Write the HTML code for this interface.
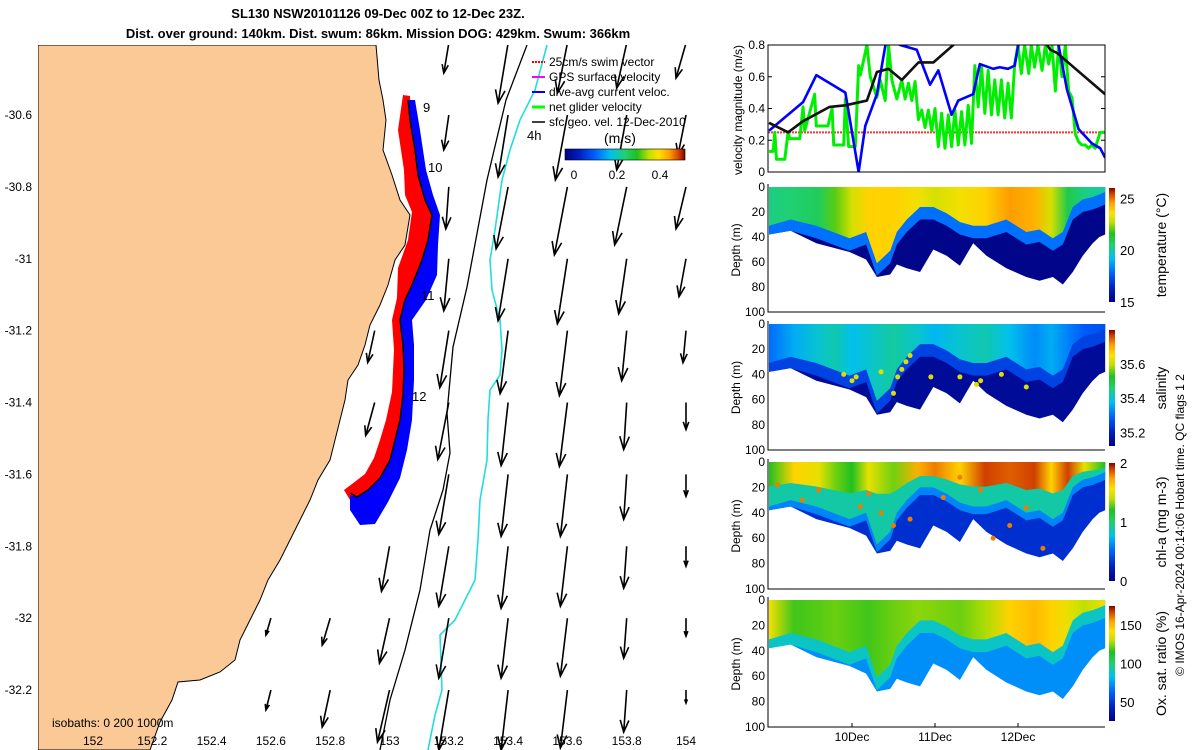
<!DOCTYPE html>
<html><head><meta charset="utf-8">
<style>
html,body{margin:0;padding:0;background:#fff;}
svg{display:block;font-family:"Liberation Sans",sans-serif;}
</style></head>
<body>
<svg id="chart" width="1200" height="750" viewBox="0 0 1200 750" xmlns="http://www.w3.org/2000/svg">
<defs>
<clipPath id="mapclip"><rect x="38" y="45" width="680" height="705"/></clipPath>
<clipPath id="velclip"><rect x="768" y="45" width="337" height="127"/></clipPath>
<linearGradient id="cbh" x1="0" x2="1" y1="0" y2="0">
<stop offset="0" stop-color="#00007f"/><stop offset=".12" stop-color="#0020c0"/><stop offset=".25" stop-color="#0060ff"/><stop offset=".38" stop-color="#00c0f0"/><stop offset=".5" stop-color="#20d070"/><stop offset=".6" stop-color="#20c020"/><stop offset=".7" stop-color="#c0e000"/><stop offset=".78" stop-color="#ffe000"/><stop offset=".87" stop-color="#ffa000"/><stop offset=".95" stop-color="#d04000"/><stop offset="1" stop-color="#800000"/>
</linearGradient>
<linearGradient id="cbv" x1="0" x2="0" y1="1" y2="0">
<stop offset="0" stop-color="#00007f"/><stop offset=".12" stop-color="#0020c0"/><stop offset=".25" stop-color="#0060ff"/><stop offset=".38" stop-color="#00c0f0"/><stop offset=".5" stop-color="#20d070"/><stop offset=".6" stop-color="#20c020"/><stop offset=".7" stop-color="#c0e000"/><stop offset=".78" stop-color="#ffe000"/><stop offset=".87" stop-color="#ffa000"/><stop offset=".95" stop-color="#d04000"/><stop offset="1" stop-color="#800000"/>
</linearGradient>
</defs>

<g font-weight="bold" font-size="13" text-anchor="middle">
<text x="378" y="18">SL130 NSW20101126 09-Dec 00Z to 12-Dec 23Z.</text>
<text x="378" y="38">Dist. over ground: 140km. Dist. swum: 86km. Mission DOG: 429km. Swum: 366km</text>
</g>

<g id="map" clip-path="url(#mapclip)">
<polygon fill="#fac996" stroke="#000" stroke-width="1"
points="38,45 376,45 379,80 383,100 386,120 383,150 392,175 400,200 410,215 405,245 395,260 388,285 380,305 370,325 365,345 358,365 348,380 345,400 340,420 335,440 330,460 318,480 310,500 300,520 290,540 280,560 268,580 260,600 250,620 240,640 235,660 220,672 200,680 178,682 172,700 160,722 150,750 38,750"/>
<polyline fill="none" stroke="#000" stroke-width="1.3" points="527,45 506,100 487,180 467,287 453,347 447,413 450,453 443,490 430,530 420,590 405,650 390,700 380,750"/>
<polyline fill="none" stroke="#22dddd" stroke-width="1.6" points="547,45 535,90 520,120 510,150 502,180 495,230 490,260 492,290 500,320 502,350 500,375 490,390 488,420 487,460 480,500 478,540 475,580 455,620 440,635 442,690 435,715 428,750"/>
<polygon fill="#ff0000" points="403,95 410,96 412,130 418,170 425,200 432,215 428,240 422,260 412,285 405,300 400,320 403,345 404,370 403,395 400,420 395,440 390,460 380,478 368,490 357,497 350,500 344,490 352,484 365,474 374,458 380,440 386,420 392,392 394,350 392,320 397,298 398,268 408,240 412,212 405,195 404,170 398,130"/>
<polygon fill="#0000ff" points="408,100 415,100 420,130 426,170 433,195 440,215 438,245 437,275 426,300 412,320 414,345 414,380 412,420 407,450 400,478 388,502 375,524 360,525 350,510 350,495 357,497 368,490 380,478 390,460 395,440 400,420 403,395 404,370 403,345 400,320 405,300 412,285 422,260 428,240 432,215 425,200 418,175 415,150 410,120"/>
<polyline fill="none" stroke="#000" stroke-width="1.4" points="408,100 410,120 415,150 418,175 425,200 432,215 428,240 422,260 412,285 405,300 400,320 403,345 404,370 403,395 400,420 395,440 390,460 380,478 368,490 357,497 350,493"/>
<g id="arrows"></g>
<g font-size="13">
<text x="423" y="112">9</text>
<text x="428" y="172">10</text>
<text x="421" y="300">11</text>
<text x="412" y="401">12</text>
<text x="527" y="140">4h</text>
</g>
<text x="52" y="727" font-size="12">isobaths: 0   200  1000m</text>
</g>

<g font-size="12">
<line x1="532" y1="62" x2="545" y2="62" stroke="#f00" stroke-width="2" stroke-dasharray="2,1"/>
<text x="549" y="66">25cm/s swim vector</text>
<line x1="532" y1="77" x2="545" y2="77" stroke="#f0f" stroke-width="2"/>
<text x="549" y="81">GPS surface velocity</text>
<line x1="532" y1="92" x2="545" y2="92" stroke="#00f" stroke-width="2"/>
<text x="549" y="96">dive-avg current veloc.</text>
<line x1="532" y1="107" x2="545" y2="107" stroke="#0f0" stroke-width="3"/>
<text x="549" y="111">net glider velocity</text>
<line x1="532" y1="122" x2="545" y2="122" stroke="#000" stroke-width="1.5"/>
<text x="549" y="126">sfc geo. vel. 12-Dec-2010</text>
<text x="604" y="143" font-size="14">(m/s)</text>
<rect x="565" y="149" width="120" height="11" fill="url(#cbh)" stroke="#000" stroke-width=".6"/>
<text x="574" y="179" text-anchor="middle">0</text>
<text x="617" y="179" text-anchor="middle">0.2</text>
<text x="660" y="179" text-anchor="middle">0.4</text>
</g>
<g id="mapaxes" font-size="12"></g>

<g id="right"></g>
<text transform="translate(1184,525) rotate(-90)" text-anchor="middle" font-size="12">© IMOS 16-Apr-2024 00:14:06 Hobart time. QC flags 1  2</text>
</svg>
<script>
// ---------- data ----------
const mapLonTicks = [152, 152.2, 152.4, 152.6, 152.8, 153, 153.2, 153.4, 153.6, 153.8, 154];
const mapLatTicks = [-30.6, -30.8, -31, -31.2, -31.4, -31.6, -31.8, -32, -32.2];
const arrLon = [153.2,153.4,153.6,153.8,154.0, 153.2,153.4,153.6,153.8,154.0, 153.2,153.4,153.6,153.8,154.0, 153.2,153.4,153.6,153.8,154.0, 153.2,153.4,153.6,153.8,154.0, 152.95,153.2,153.4,153.6,153.8,154.0, 152.95,153.2,153.4,153.6,153.8,154.0, 153.0,153.2,153.4,153.6,153.8,154.0, 152.6,152.8,153.0,153.2,153.4,153.6,153.8,154.0, 152.6,152.8,153.0,153.2,153.4,153.6,153.8,154.0];
const arrLat = [-30.4,-30.4,-30.4,-30.4,-30.4, -30.6,-30.6,-30.6,-30.6,-30.6, -30.8,-30.8,-30.8,-30.8,-30.8, -31.0,-31.0,-31.0,-31.0,-31.0, -31.2,-31.2,-31.2,-31.2,-31.2, -31.2,-31.4,-31.4,-31.4,-31.4,-31.4, -31.4,-31.6,-31.6,-31.6,-31.6,-31.6, -31.8,-31.8,-31.8,-31.8,-31.8,-31.8, -32.0,-32.0,-32.0,-32.0,-32.0,-32.0,-32.0,-32.0, -32.2,-32.2,-32.2,-32.2,-32.2,-32.2,-32.2,-32.2];
const arrU = [-0.05,-0.1,-0.1,-0.1,-0.1, -0.05,-0.1,-0.12,-0.1,-0.08, -0.03,-0.12,-0.13,-0.12,-0.1, -0.05,-0.1,-0.1,-0.08,-0.07, -0.09,-0.08,-0.08,-0.05,-0.03, -0.07,-0.11,-0.07,-0.08,-0.03,0, -0.09,-0.1,-0.07,-0.07,-0.03,0, -0.08,-0.1,-0.07,-0.07,-0.03,0, -0.05,-0.08,-0.1,-0.1,-0.07,-0.07,-0.03,0, -0.05,-0.08,-0.12,-0.1,-0.07,-0.07,-0.03,0];
const arrV = [-0.3,-0.6,-0.5,-0.45,-0.35, -0.35,-0.62,-0.65,-0.55,-0.4, -0.42,-0.62,-0.68,-0.58,-0.42, -0.52,-0.62,-0.65,-0.55,-0.38, -0.57,-0.63,-0.65,-0.5,-0.32, -0.32,-0.57,-0.63,-0.64,-0.47,-0.27, -0.33,-0.6,-0.62,-0.62,-0.45,-0.22, -0.45,-0.6,-0.62,-0.6,-0.42,-0.2, -0.17,-0.27,-0.45,-0.6,-0.6,-0.58,-0.4,-0.18, -0.2,-0.37,-0.52,-0.6,-0.6,-0.58,-0.42,-0.13];

const velTicks = [0, 0.2, 0.4, 0.6, 0.8];
const dateTicks = [1, 2, 3];
const dateLabels = ["10Dec", "11Dec", "12Dec"];
const blueT = [0,0.41,0.57,0.92,1.08,1.16,1.30,1.42,1.58,1.78,1.94,2.04,2.20,2.28,2.46,2.54,2.70,2.78,2.88,2.96,3.02,3.47,3.59,3.73,3.89,3.99,4.05];
const blueV = [0.26,0.44,0.61,0.5,0,0.29,0.49,0.85,0.8,0.77,0.55,0.64,0.36,0.45,0.49,0.68,0.65,0.66,0.65,0.67,0.85,0.85,0.52,0.27,0.18,0.15,0.09];
const blackT = [0,0.23,0.41,0.73,0.92,1.18,1.30,1.44,1.60,1.80,1.98,2.22,2.6,3.0,3.35,3.39,3.47,4.05];
const blackV = [0.31,0.25,0.32,0.41,0.42,0.45,0.63,0.65,0.58,0.69,0.69,0.8,0.95,0.95,0.8,0.77,0.75,0.49];
const greenT = [0,0.05,0.07,0.09,0.19,0.23,0.25,0.37,0.41,0.43,0.55,0.57,0.71,0.76,0.78,0.90,0.92,0.96,1.04,1.08,1.10,1.18,1.22,1.30,1.34,1.40,1.44,1.48,1.54,1.60,1.64,1.68,1.72,1.76,1.80,1.84,1.88,1.92,1.96,2.00,2.04,2.08,2.12,2.16,2.20,2.24,2.28,2.32,2.36,2.40,2.44,2.48,2.52,2.56,2.60,2.64,2.68,2.72,2.76,2.80,2.84,2.88,2.92,2.96,3.00,3.04,3.08,3.13,3.16,3.20,3.24,3.29,3.33,3.37,3.41,3.45,3.49,3.53,3.57,3.61,3.65,3.69,3.73,3.77,3.81,3.85,3.89,3.93,3.99,4.05];
const greenV = [0.13,0.13,0.25,0.08,0.08,0.25,0.21,0.21,0.41,0.26,0.49,0.29,0.29,0.40,0.17,0.17,0.46,0.16,0.16,0.67,0.61,0.8,0.6,0.47,0.58,0.45,0.8,0.58,0.46,0.58,0.46,0.56,0.45,0.57,0.33,0.39,0.28,0.39,0.26,0.40,0.16,0.37,0.15,0.36,0.16,0.39,0.17,0.38,0.17,0.42,0.18,0.67,0.41,0.67,0.37,0.64,0.36,0.58,0.36,0.58,0.34,0.56,0.34,0.68,0.8,0.62,0.8,0.62,0.8,0.66,0.8,0.64,0.8,0.68,0.8,0.51,0.8,0.6,0.8,0.51,0.47,0.24,0.19,0.17,0.17,0.15,0.17,0.15,0.25,0.25];
const swimSpeed = 0.25;

const depthTicks = [0, 20, 40, 60, 80, 100];
const secT = [0,0.26,0.57,0.97,1.17,1.30,1.46,1.54,1.66,1.82,1.98,2.14,2.30,2.46,2.62,2.86,3.10,3.26,3.42,3.54,3.66,3.78,3.90,3.98,4.05];
const bottomD = [38,35,45,52,58,72,70,62,65,68,50,55,63,45,55,65,72,75,72,78,68,55,45,40,38];
const mixD = [35,30,35,45,40,65,55,40,30,20,20,25,32,35,35,30,40,38,45,40,20,14,12,10,8];
const surfT = [0,0.3,0.6,0.8,1.0,1.2,1.5,1.8,2.0,2.3,2.6,2.9,3.2,3.4,3.6,3.8,4.05];
const tempSurf = [20.3,20.5,20.8,22,23,23.8,23.8,23.4,23,23.4,23.8,24.6,24.3,23,21,20.3,20];
const salSurf = [35.3,35.36,35.4,35.42,35.38,35.4,35.43,35.4,35.37,35.4,35.42,35.38,35.33,35.36,35.32,35.28,35.27];
const chlSurf = [1.2,1.6,1.5,1.3,1.2,1.5,1.3,1.7,1.8,1.6,1.9,1.85,1.9,1.6,1.9,1.5,1.2];
const oxSurf = [140,118,120,122,120,118,122,125,124,122,128,145,150,145,138,130,138];
const salDotT = [0.9,1.0,1.05,1.35,1.5,1.55,1.6,1.65,1.7,1.95,2.3,2.5,2.55,2.8,3.1];
const salDotD = [40,45,42,38,55,42,36,30,25,42,42,48,45,40,50];
const chlDotT = [0.1,0.4,0.6,1.1,1.2,1.35,1.5,1.7,2.1,2.3,2.55,2.7,2.9,3.1,3.3];
const chlDotD = [18,30,22,35,25,40,50,45,28,12,22,60,50,36,68];

// ---------- helpers ----------
const NS = "http://www.w3.org/2000/svg";
function el(tag, parent){ const e = document.createElementNS(NS, tag); parent.appendChild(e); return e; }
function jet(f){
  const st=[[0,[0,0,127]],[.12,[0,32,192]],[.25,[0,96,255]],[.38,[0,192,240]],[.5,[32,208,112]],[.6,[32,192,32]],[.7,[192,224,0]],[.78,[255,224,0]],[.87,[255,160,0]],[.95,[208,64,0]],[1,[128,0,0]]];
  f=Math.max(0,Math.min(1,f));
  for(let i=1;i<st.length;i++){ if(f<=st[i][0]){ const a=st[i-1],b=st[i],k=(f-a[0])/(b[0]-a[0]); return "rgb("+a[1].map((c,j)=>Math.round(c+(b[1][j]-c)*k)).join(",")+")"; } }
  return "rgb(128,0,0)";
}
const lonX = lon => 93 + (lon-152)*296.5;
const latY = lat => 115 + (-30.6-lat)*359.4;
const tX = t => 769 + t*83;
const velY = v => 172 - v*158.75;

// ---------- map axes ----------
const ma = document.getElementById("mapaxes");
mapLonTicks.forEach(l=>{
  const t = el("text", ma);
  
  
  t.setAttribute("x", lonX(l)); t.setAttribute("y", 745); t.setAttribute("text-anchor","middle");
  t.textContent = String(l);
});
mapLatTicks.forEach(l=>{
  const t = el("text", ma);
  
  
  t.setAttribute("x", 32); t.setAttribute("y", latY(l)+4); t.setAttribute("text-anchor","end");
  t.textContent = String(l);
});

// ---------- arrows ----------
const ag = document.getElementById("arrows");
const arrScale = 100;
arrLon.forEach((lon,i)=>{
  const x0=lonX(lon), y0=latY(arrLat[i]);
  const x1=x0+arrU[i]*arrScale, y1=y0-arrV[i]*arrScale;
  const ang=Math.atan2(y1-y0,x1-x0), L=Math.hypot(x1-x0,y1-y0), h=Math.min(14,L*0.3);
  const p = el("path", ag);
  
  
  p.setAttribute("d", `M${x0},${y0}L${x1},${y1}M${x1-h*Math.cos(ang-0.35)},${y1-h*Math.sin(ang-0.35)}L${x1},${y1}L${x1-h*Math.cos(ang+0.35)},${y1-h*Math.sin(ang+0.35)}`);
  p.setAttribute("stroke","#000"); p.setAttribute("stroke-width","1.6"); p.setAttribute("fill","none");
});

// ---------- right panels ----------
const R = document.getElementById("right");
const XL=768, XR=1105;

const vp = el("g", R);


const vclip = el("g", vp); vclip.setAttribute("clip-path","url(#velclip)");
const sw = el("line", vclip);


sw.setAttribute("x1",XL); sw.setAttribute("x2",XR); sw.setAttribute("y1",velY(swimSpeed)); sw.setAttribute("y2",velY(swimSpeed));
sw.setAttribute("stroke","#f33"); sw.setAttribute("stroke-width","2"); sw.setAttribute("stroke-dasharray","2,1");
function series(T,V,color,w,name){
  const p = el("polyline", vclip);
  
  
  p.setAttribute("points", T.map((t,i)=>tX(t)+","+velY(V[i])).join(" "));
  p.setAttribute("fill","none"); p.setAttribute("stroke",color); p.setAttribute("stroke-width",w); p.setAttribute("stroke-linejoin","round");
}
series(greenT,greenV,"#00ee00",3,"net-glider-velocity-line");
series(blueT,blueV,"#0000ff",2.6,"dive-avg-current-line");
series(blackT,blackV,"#111",2.6,"sfc-geo-velocity-line");
const vb = el("rect", vp);


vb.setAttribute("x",XL); vb.setAttribute("y",45); vb.setAttribute("width",XR-XL); vb.setAttribute("height",127);
vb.setAttribute("fill","none"); vb.setAttribute("stroke","#000");
velTicks.forEach(v=>{
  const t = el("text", vp);
  
  
  t.setAttribute("x",765); t.setAttribute("y",velY(v)+4); t.setAttribute("text-anchor","end"); t.setAttribute("font-size","12");
  t.textContent = String(v);
  const k = el("path", vp);
  
  
  k.setAttribute("d",`M${XL},${velY(v)}h4M${XR},${velY(v)}h-4`); k.setAttribute("stroke","#000");
});
const vyl = el("text", vp);


vyl.setAttribute("transform","translate(742,110) rotate(-90)"); vyl.setAttribute("text-anchor","middle"); vyl.setAttribute("font-size","12");
vyl.textContent = "velocity magnitude (m/s)";

const panels = [
  {name:"temperature", top:184, bot:312, surf:tempSurf, min:15, max:26, deep:15.2, band:18.0, mid:null, cb:[188,302], ticks:[15,20,25], tl:["15","20","25"], label:"temperature (°C)", dotsT:null},
  {name:"salinity", top:321, bot:450, surf:salSurf, min:35.12, max:35.8, deep:35.15, band:35.25, mid:null, cb:[330,446], ticks:[35.2,35.4,35.6], tl:["35.2","35.4","35.6"], label:"salinity", dotsT:salDotT, dotsD:salDotD, dotV:35.62},
  {name:"chlorophyll", top:459, bot:589, surf:chlSurf, min:0, max:2, deep:0.3, band:0.6, mid:0.9, cb:[463,581], ticks:[0,1,2], tl:["0","1","2"], label:"chl-a (mg m-3)", dotsT:chlDotT, dotsD:chlDotD, dotV:1.8},
  {name:"oxygen", top:597, bot:727, surf:oxSurf, min:25, max:175, deep:72, band:88, mid:null, cb:[606,721], ticks:[50,100,150], tl:["50","100","150"], label:"Ox. sat. ratio (%)", dotsT:null}
];
panels.forEach((P,pi)=>{
  const g = el("g", R);
  
  
  const dY = d => P.top + 3 + d*(P.bot-P.top-3)/100;
  const f = v => (v-P.min)/(P.max-P.min);
  const gid = "sg"+pi;
  const lg = el("linearGradient", document.querySelector("defs"));
  lg.setAttribute("id",gid); lg.setAttribute("gradientUnits","userSpaceOnUse");
  lg.setAttribute("x1",XL); lg.setAttribute("x2",XR); lg.setAttribute("y1",0); lg.setAttribute("y2",0);
  surfT.forEach((t,i)=>{ const s=el("stop",lg); s.setAttribute("offset",(tX(t)-XL)/(XR-XL)); s.setAttribute("stop-color",jet(f(P.surf[i]))); });
  const topPts = `${tX(secT[0])},${dY(0)} ${tX(secT[secT.length-1])},${dY(0)}`;
  const deep = el("polygon", g);
  
  
  deep.setAttribute("points", topPts+" "+secT.map((t,i)=>tX(t)+","+dY(bottomD[i])).reverse().join(" "));
  deep.setAttribute("fill", jet(f(P.deep)));
  const band = el("polygon", g);
  
  
  band.setAttribute("points", topPts+" "+secT.map((t,i)=>tX(t)+","+dY(Math.min(bottomD[i],mixD[i]+6))).reverse().join(" "));
  band.setAttribute("fill", jet(f(P.band)));
  if(P.mid!==null){
    const mid = el("polygon", g);
    
    
    mid.setAttribute("points", topPts+" "+secT.map((t,i)=>tX(t)+","+dY(mixD[i])).reverse().join(" "));
    mid.setAttribute("fill", jet(f(P.mid)));
  }
  const up = el("polygon", g);
  
  
  const upD = P.mid!==null ? mixD.map(d=>Math.min(d*0.55,25)) : mixD.map(d=>Math.max(4,d-4));
  up.setAttribute("points", topPts+" "+secT.map((t,i)=>tX(t)+","+dY(upD[i])).reverse().join(" "));
  up.setAttribute("fill", "url(#"+gid+")");
  if(P.dotsT){
    P.dotsT.forEach((t,i)=>{
      const c = el("circle", g);
      
      
      c.setAttribute("cx",tX(t)); c.setAttribute("cy",dY(P.dotsD[i])); c.setAttribute("r",2.5);
      c.setAttribute("fill", jet(f(P.dotV)));
    });
  }
  const ax = el("path", g);
  
  
  ax.setAttribute("d",`M${XL},${P.top}V${P.bot}H${XR}`); ax.setAttribute("stroke","#000"); ax.setAttribute("fill","none");
  depthTicks.forEach(d=>{
    const t = el("text", g);
    
    
    t.setAttribute("x",765); t.setAttribute("y",dY(d)+4); t.setAttribute("text-anchor","end"); t.setAttribute("font-size","12");
    t.textContent = String(d);
  });
  const yl = el("text", g);
  
  
  yl.setAttribute("transform",`translate(740,${(P.top+P.bot)/2+2}) rotate(-90)`); yl.setAttribute("text-anchor","middle"); yl.setAttribute("font-size","12");
  yl.textContent = "Depth (m)";
  const cb = el("rect", g);
  
  
  cb.setAttribute("x",1109); cb.setAttribute("y",P.cb[0]); cb.setAttribute("width",6); cb.setAttribute("height",P.cb[1]-P.cb[0]); cb.setAttribute("fill","url(#cbv)");
  const cbY = v => P.cb[1] - f(v)*(P.cb[1]-P.cb[0]);
  P.ticks.forEach((v,i)=>{
    const t = el("text", g);
    
    
    t.setAttribute("x",1120); t.setAttribute("y",cbY(v)+5); t.setAttribute("font-size","13");
    t.textContent = P.tl[i];
  });
  const cl = el("text", g);
  
  
  cl.setAttribute("transform",`translate(1166,${(P.cb[0]+P.cb[1])/2}) rotate(-90)`); cl.setAttribute("text-anchor","middle"); cl.setAttribute("font-size","14");
  cl.textContent = P.label;
});
dateTicks.forEach((d,i)=>{
  const t = el("text", R);
  
  
  t.setAttribute("x",tX(d)); t.setAttribute("y",741); t.setAttribute("text-anchor","middle"); t.setAttribute("font-size","12");
  t.textContent = dateLabels[i];
  const k = el("line", R);
  
  
  k.setAttribute("x1",tX(d)); k.setAttribute("x2",tX(d)); k.setAttribute("y1",727); k.setAttribute("y2",723); k.setAttribute("stroke","#000");
});
</script>
</body></html>
